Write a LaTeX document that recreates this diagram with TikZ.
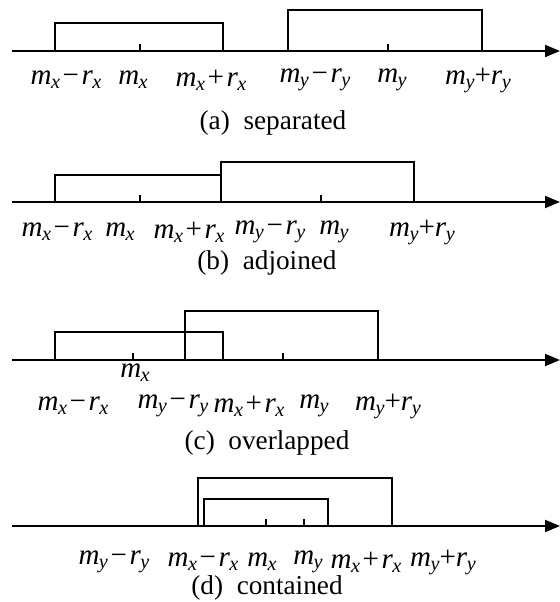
\documentclass[tikz,border=0pt]{standalone}
\usepackage{fontspec}
\setmainfont{Liberation Serif}
\usetikzlibrary{arrows.meta}
\newcommand{\mv}[1]{\textit{m}\kern-0.3pt\raisebox{-0.3ex}{\fontsize{11.5}{11.5}\selectfont\textit{#1}}}
\newcommand{\rv}[1]{\textit{r}\kern-0.3pt\raisebox{-0.3ex}{\fontsize{11.5}{11.5}\selectfont\textit{#1}}}
\newcommand{\mns}{\kern1.5pt−\kern1.5pt}
\newcommand{\pls}{\kern1.5pt+\kern1.5pt}
\tikzset{
    axis/.style={line width=1.1pt, -{Triangle[length=3mm, width=2.4mm]}},
    box/.style={line width=0.8pt},
    tick/.style={line width=0.8pt},
    lab/.style={inner sep=0pt, font=\fontsize{16.5}{16.5}\selectfont},
    caption/.style={inner sep=0pt, font=\fontsize{15.5}{16}\selectfont},
}
\begin{document}
\begin{tikzpicture}[x=0.02cm, y=-0.02cm]
    \useasboundingbox (0,0) rectangle (560,602);

    % (a) separated
    \coordinate (a0) at (12,51);
    \coordinate (a9) at (560,51);
    \draw[axis] (a0) -- (a9);
    \draw[box] (55,51) |- (223,23) -- (223,51);
    \draw[box] (288,51) |- (482,10) -- (482,51);
    \draw[tick] (140,51) -- ++(0,-7);
    \draw[tick] (388,51) -- ++(0,-7);
    \node[lab] (a1) at (66,80) {\mv{x}\mns\rv{x}};
    \node[lab] (a2) at (133,80) {\mv{x}};
    \node[lab] (a3) at (211,80) {\mv{x}\pls\rv{x}};
    \node[lab] (a4) at (315,80) {\mv{y}\mns\rv{y}};
    \node[lab] (a5) at (392,80) {\mv{y}};
    \node[lab] (a6) at (478,80) {\mv{y}+\rv{y}};
    \node[caption] (acap) at (273,123) {(a)\enspace separated};

    % (b) adjoined
    \coordinate (b0) at (12,202);
    \coordinate (b9) at (560,202);
    \draw[axis] (b0) -- (b9);
    \draw[box] (55,202) |- (221,175) -- (221,202);
    \draw[box] (221,202) |- (414,162) -- (414,202);
    \draw[tick] (140,202) -- ++(0,-7);
    \draw[tick] (321,202) -- ++(0,-7);
    \node[lab] (b1) at (57,232) {\mv{x}\mns\rv{x}};
    \node[lab] (b2) at (120,232) {\mv{x}};
    \node[lab] (b3) at (189,232) {\mv{x}\pls\rv{x}};
    \node[lab] (b4) at (270,232) {\mv{y}\mns\rv{y}};
    \node[lab] (b5) at (334,232) {\mv{y}};
    \node[lab] (b6) at (422,232) {\mv{y}+\rv{y}};
    \node[caption] (bcap) at (267,263) {(b)\enspace adjoined};

    % (c) overlapped
    \coordinate (c0) at (12,360);
    \coordinate (c9) at (560,360);
    \draw[axis] (c0) -- (c9);
    \draw[box] (55,360) |- (223,332) -- (223,360);
    \draw[box] (185,360) |- (378,311) -- (378,360);
    \draw[tick] (133,360) -- ++(0,-7);
    \draw[tick] (283,360) -- ++(0,-7);
    \node[lab] (c2) at (135,373) {\mv{x}};
    \node[lab] (c1) at (73,406) {\mv{x}\mns\rv{x}};
    \node[lab] (c4) at (173,406) {\mv{y}\mns\rv{y}};
    \node[lab] (c3) at (249,406) {\mv{x}\pls\rv{x}};
    \node[lab] (c5) at (314,406) {\mv{y}};
    \node[lab] (c6) at (388,406) {\mv{y}+\rv{y}};
    \node[caption] (ccap) at (267,443) {(c)\enspace overlapped};

    % (d) contained
    \coordinate (d0) at (12,526);
    \coordinate (d9) at (560,526);
    \draw[axis] (d0) -- (d9);
    \draw[box] (198,526) |- (392,478) -- (392,526);
    \draw[box] (204,526) |- (328,499) -- (328,526);
    \draw[tick] (266,526) -- ++(0,-7);
    \draw[tick] (304,526) -- ++(0,-7);
    \node[lab] (d4) at (114,562) {\mv{y}\mns\rv{y}};
    \node[lab] (d1) at (203,562) {\mv{x}\mns\rv{x}};
    \node[lab] (d2) at (262,562) {\mv{x}};
    \node[lab] (d5) at (308,562) {\mv{y}};
    \node[lab] (d3) at (366,562) {\mv{x}\pls\rv{x}};
    \node[lab] (d6) at (443,562) {\mv{y}+\rv{y}};
    \node[caption] (dcap) at (267,588) {(d)\enspace contained};
\end{tikzpicture}
\end{document}
